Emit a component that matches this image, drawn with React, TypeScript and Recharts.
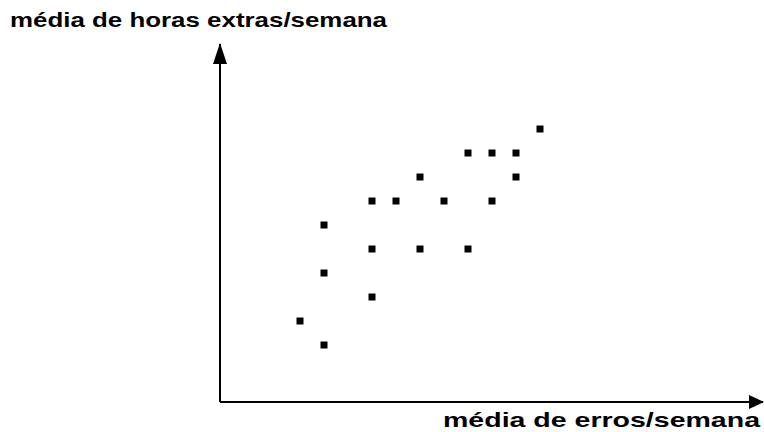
import React from 'react';
import { ScatterChart, Scatter, XAxis, YAxis } from 'recharts';

// média de erros por semana (x) e média de horas extras por semana (y)
const errosPorSemana = [1, 2, 2, 2, 4, 4, 4, 5, 6, 6, 7, 8, 8, 9, 9, 10, 10, 11];
const horasExtras = [2, 1, 4, 6, 3, 5, 7, 7, 8, 5, 7, 9, 5, 9, 7, 9, 8, 10];
const yTitle = 'média de horas extras/semana';
const xTitle = 'média de erros/semana';

const data = errosPorSemana.map((x, i) => ({ x, y: horasExtras[i] }));

const Square = (props: any) => {
  const { cx, cy } = props;
  return <rect x={cx - 3.5} y={cy - 3.5} width={7} height={7} fill="#000" />;
};

const fontFamily = '"Liberation Sans", Arial, sans-serif';

export default function App() {
  return (
    <div style={{ position: 'absolute', left: 0, top: 0, width: 764, height: 432, background: '#fff' }}>
      <svg width={0} height={0} style={{ position: 'absolute' }}>
        <defs>
          <marker id="arrowY" markerUnits="userSpaceOnUse" markerWidth={21} markerHeight={14} refX={20} refY={7} orient="auto-start-reverse" style={{ overflow: 'visible' }}>
            <path d="M0,0 L21,7 L0,14 Z" fill="#000" />
          </marker>
          <marker id="arrowX" markerUnits="userSpaceOnUse" markerWidth={15} markerHeight={14} refX={14} refY={7} orient="auto" style={{ overflow: 'visible' }}>
            <path d="M0,0 L15,7 L0,14 Z" fill="#000" />
          </marker>
        </defs>
      </svg>
      <ScatterChart width={764} height={432} margin={{ top: 44, right: 1, bottom: 29, left: 219 }}>
        <XAxis
          type="number"
          dataKey="x"
          domain={[-7 / 3, 487 / 24]}
          allowDataOverflow
          height={1}
          tick={false}
          tickLine={false}
          stroke="#000"
          axisLine={{ stroke: '#000', strokeWidth: 2, markerEnd: 'url(#arrowX)' } as any}
        />
        <YAxis
          type="number"
          dataKey="y"
          domain={[-1.375, 325 / 24]}
          allowDataOverflow
          width={1}
          tick={false}
          tickLine={false}
          stroke="#000"
          axisLine={{ stroke: '#000', strokeWidth: 2, markerStart: 'url(#arrowY)' } as any}
        />
        <Scatter data={data} shape={Square} isAnimationActive={false} />
      </ScatterChart>
      <svg width={764} height={432} style={{ position: 'absolute', left: 0, top: 0, pointerEvents: 'none' }}>
        <text x={10} y={27} fontFamily={fontFamily} fontWeight="bold" fontSize={21} textLength={377} lengthAdjust="spacingAndGlyphs" fill="#000">
          {yTitle}
        </text>
        <text x={443} y={427} fontFamily={fontFamily} fontWeight="bold" fontSize={21} textLength={317} lengthAdjust="spacingAndGlyphs" fill="#000">
          {xTitle}
        </text>
      </svg>
    </div>
  );
}
